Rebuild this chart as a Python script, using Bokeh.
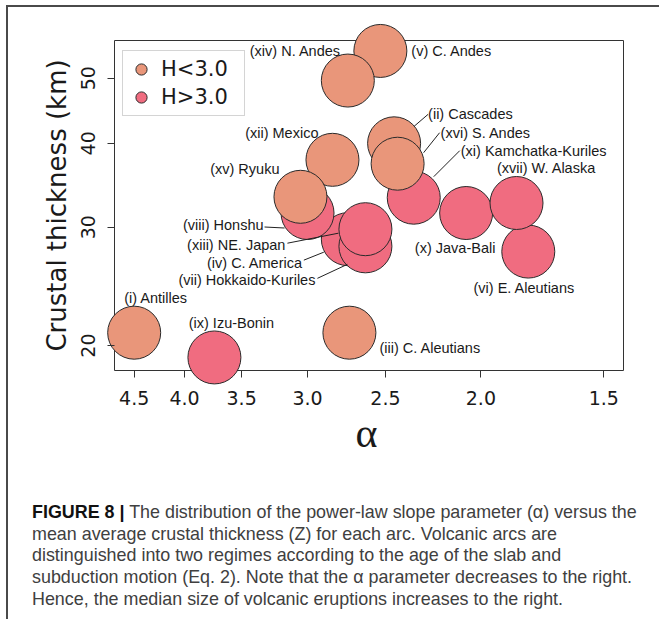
import math

from bokeh.core.properties import value
from bokeh.embed import file_html
from bokeh.layouts import column
from bokeh.models import (BoxAnnotation, ColumnDataSource, CustomJSTickFormatter, Div,
                          FixedTicker, Legend, LegendItem, Range1d)
from bokeh.plotting import figure
from bokeh.resources import INLINE

# ---- data: one entry per volcanic arc -------------------------------------
arcs = ["(i) Antilles", "(ii) Cascades", "(iii) C. Aleutians", "(iv) C. America",
        "(v) C. Andes", "(vi) E. Aleutians", "(vii) Hokkaido-Kuriles", "(viii) Honshu",
        "(ix) Izu-Bonin", "(x) Java-Bali", "(xi) Kamchatka-Kuriles", "(xii) Mexico",
        "(xiii) NE. Japan", "(xiv) N. Andes", "(xv) Ryuku", "(xvi) S. Andes",
        "(xvii) W. Alaska"]
alpha = [4.50, 2.45, 2.72, 2.73, 2.53, 1.79, 2.62, 3.00, 3.73, 2.07, 2.34, 2.83,
         2.62, 2.73, 3.05, 2.43, 1.84]
thickness = [20.9, 40.0, 20.9, 28.8, 54.9, 27.6, 28.1, 31.5, 19.2, 31.5, 33.2, 37.8,
             29.8, 49.6, 33.3, 37.3, 32.6]
regime = ["H<3.0", "H<3.0", "H<3.0", "H>3.0", "H<3.0", "H>3.0", "H>3.0", "H>3.0",
          "H>3.0", "H>3.0", "H>3.0", "H<3.0", "H>3.0", "H<3.0", "H<3.0", "H<3.0",
          "H>3.0"]
regimes = ["H<3.0", "H>3.0"]
x_ticks = [1.5, 2.0, 2.5, 3.0, 3.5, 4.0, 4.5]
y_ticks = [20, 30, 40, 50]

# ---- styling ---------------------------------------------------------------
regime_colors = {"H<3.0": "#E9967A", "H>3.0": "#F06C80"}
# label placement: pixel offset from the circle centre and text alignment
label_dx = [-10, 34, 30, -45, 31, -4, -50, -44, 17, -11, 47, -14, -80, -7, -21, 43, 30]
label_dy = [-35, -29, 15, 24, 0, 36, 34, 12, -34, 35, -47, -27, 16, -30, -28, -31, -35]
label_align = ["left", "left", "left", "right", "left", "center", "right", "right",
               "center", "center", "left", "right", "right", "right", "right", "left",
               "center"]
# leader lines: arc index, pixel offsets of the label end and the circle end
leaders = [(1, (34, -29), (20, -17)),
           (15, (42, -31), (26, -11)),
           (10, (46, -47), (20, -21)),
           (7, (-43, 14), (-23, 15)),
           (12, (-78, 14), (-27, 4)),
           (3, (-44, 21), (-24, 13)),
           (6, (-48, 32), (-18, 18))]

W, H = 659, 490
PAGE_H = 619
# plot box (pixels) and its data limits
BOX_L, BOX_R, BOX_T, BOX_B = 114, 623, 40, 370
X0, X1 = 4.712, 1.4326
Y0, Y1 = 18.36, 56.9
# the drawing area reaches a little past the box so circles can overhang it
PAD_L, PAD_R, PAD_T, PAD_B = 10, 5, 20, 20
TICK = 7
PX_X = (BOX_R - BOX_L) / (math.log(X0) - math.log(X1))
PX_Y = (BOX_B - BOX_T) / (math.log(Y1) - math.log(Y0))
FRAME_H = (BOX_B + PAD_B) - (BOX_T - PAD_T)


def shifted(xv, yv, dx, dy):
    """Move a data point by (dx, dy) screen pixels on the reversed log/log axes."""
    return (math.exp(math.log(xv) - dx / PX_X), math.exp(math.log(yv) - dy / PX_Y))


x_range = Range1d(math.exp(math.log(X0) + PAD_L / PX_X),
                  math.exp(math.log(X1) - PAD_R / PX_X))
y_range = Range1d(math.exp(math.log(Y0) - PAD_B / PX_Y),
                  math.exp(math.log(Y1) + PAD_T / PX_Y))

p = figure(width=W, height=H, x_axis_type="log", y_axis_type="log",
           x_range=x_range, y_range=y_range,
           output_backend="svg", toolbar_location=None,
           min_border_left=BOX_L - PAD_L, min_border_right=W - BOX_R - PAD_R,
           min_border_top=BOX_T - PAD_T, min_border_bottom=H - BOX_B - PAD_B)
p.border_fill_color = None
p.background_fill_color = None
p.outline_line_color = None
p.xgrid.visible = False
p.ygrid.visible = False

# the plot box itself, drawn beneath the circles
p.add_layout(BoxAnnotation(left=X0, right=X1, bottom=Y0, top=Y1,
                           fill_color=None, fill_alpha=0,
                           line_color="#333333", line_alpha=1, line_width=1,
                           level="underlay"))

for ax in (p.xaxis[0], p.yaxis[0]):
    ax.axis_line_color = None
    ax.major_tick_line_color = "#333333"
    ax.minor_tick_line_color = None
    ax.major_label_text_font = "DejaVu Sans"
    ax.major_label_text_font_size = "19px"
    ax.major_label_text_color = "#1a1a1a"
    ax.axis_label_text_font_style = "normal"
    ax.axis_label_text_color = "#1a1a1a"

# ticks hang 7 px outside the box edge, which sits PAD px inside the drawing area
p.xaxis.major_tick_in = PAD_B
p.xaxis.major_tick_out = TICK - PAD_B
p.xaxis.ticker = FixedTicker(ticks=x_ticks)
p.xaxis.formatter = CustomJSTickFormatter(code="return tick.toFixed(1)")
p.xaxis.major_label_standoff = 0
p.xaxis.axis_label = "α"
p.xaxis.axis_label_text_font = "Liberation Serif"
p.xaxis.axis_label_text_font_size = "42px"
p.xaxis.axis_label_standoff = 2

p.yaxis.major_tick_in = PAD_L
p.yaxis.major_tick_out = TICK - PAD_L
p.yaxis.ticker = FixedTicker(ticks=y_ticks)
p.yaxis.formatter = CustomJSTickFormatter(code="return tick.toFixed(0)")
p.yaxis.major_label_orientation = "vertical"
p.yaxis.major_label_standoff = 9
p.yaxis.axis_label = "Crustal thickness (km)"
p.yaxis.axis_label_text_font = "DejaVu Sans"
p.yaxis.axis_label_text_font_size = "26px"
p.yaxis.axis_label_standoff = 7

src = ColumnDataSource(dict(
    x=alpha, y=thickness, name=arcs, regime=regime,
    color=[regime_colors[r] for r in regime],
    dx=label_dx, dy=label_dy, align=label_align,
))

arcs_r = p.scatter("x", "y", source=src, size=53, fill_color="color", fill_alpha=1,
                   line_color="#2b2b2b", line_width=1)

# leader lines from the label to the edge of its circle
lx0, ly0, lx1, ly1 = [], [], [], []
for i, (ax_, ay_), (bx_, by_) in leaders:
    a = shifted(alpha[i], thickness[i], ax_, ay_)
    b = shifted(alpha[i], thickness[i], bx_, by_)
    lx0.append(a[0]); ly0.append(a[1]); lx1.append(b[0]); ly1.append(b[1])
p.segment(lx0, ly0, lx1, ly1, line_color="#222222", line_width=1)

p.text("x", "y", text="name", source=src, x_offset="dx", y_offset="dy",
       text_align="align", text_baseline="middle",
       text_font=value("Liberation Sans"), text_font_size="14.5px",
       text_color="#1a1a1a")

legend = Legend(items=[LegendItem(label=r, renderers=[arcs_r], index=regime.index(r))
                       for r in regimes],
                location=(PAD_L + 8, FRAME_H - PAD_T - 12 - 64), margin=0, padding=4,
                glyph_width=28, glyph_height=28, spacing=0,
                label_standoff=6, label_width=79,
                label_text_font="DejaVu Sans", label_text_font_size="21px",
                label_text_color="#1a1a1a",
                border_line_color="#aaaaaa", border_line_width=1,
                background_fill_color="white")
p.add_layout(legend)

caption_html = (
    '<div style="padding-top:7px;padding-left:27px;font-family:\'Liberation Sans\','
    'sans-serif;font-size:17.9px;line-height:21.7px;color:#404040;white-space:nowrap;">'
    '<b style="color:#111">FIGURE 8 |</b> The distribution of the power-law slope '
    'parameter (α) versus the<br>'
    'mean average crustal thickness (Z) for each arc. Volcanic arcs are<br>'
    'distinguished into two regimes according to the age of the slab and<br>'
    'subduction motion (Eq. 2). Note that the α parameter decreases to the right.<br>'
    'Hence, the median size of volcanic eruptions increases to the right.'
    '</div>'
)
caption = Div(text=caption_html, width=W, height=PAGE_H - H)

frame_lines = ("linear-gradient(#4a4a4a,#4a4a4a) 7px 5px / 100% 2px no-repeat, "
               "linear-gradient(#4a4a4a,#4a4a4a) 6px 5px / 2px 100% no-repeat")
page = column(p, caption, styles={"background": frame_lines})

with open("out.html", "w") as f:
    f.write(file_html(page, INLINE))
